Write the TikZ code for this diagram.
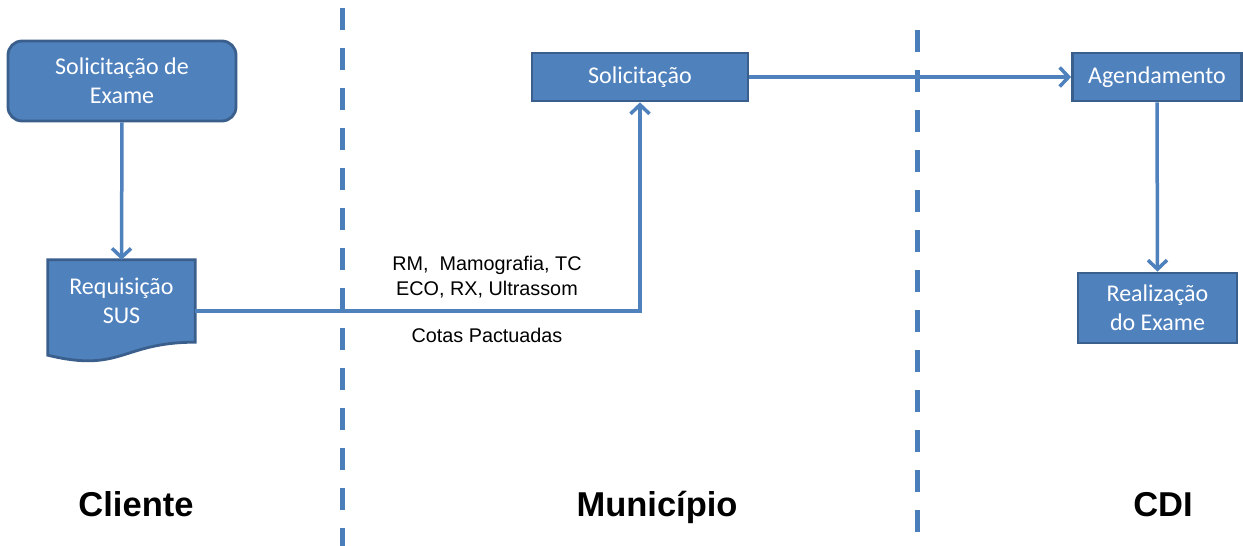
\documentclass[tikz,border=0pt]{standalone}
\usepackage{fontspec}
\setmainfont{Carlito}
\newfontfamily\arialfont{Liberation Sans}
\usetikzlibrary{arrows.meta,calc,backgrounds}
\definecolor{boxfill}{HTML}{4F81BD}
\definecolor{boxline}{HTML}{3A5F8C}
\definecolor{lanecol}{HTML}{4A7EBB}
\begin{document}
\begin{tikzpicture}[x=1pt,y=-1pt,
  boxnode/.style={draw=boxline,fill=boxfill,line width=2.8pt,text=white,
    font=\fontsize{24}{29}\selectfont,align=center,inner sep=0pt},
  doctext/.style={text=white,font=\fontsize{24}{29}\selectfont,align=center,inner sep=0pt},
  conn/.style={draw=boxfill,line width=3.5pt,
    -{Straight Barb[length=9pt,width=19pt,line width=3.5pt]}},
  lane/.style={draw=lanecol,line width=5pt,dash pattern=on 22pt off 18pt},
  lanetitle/.style={font=\arialfont\bfseries\fontsize{34.5}{40}\selectfont,anchor=base},
  note/.style={font=\arialfont\fontsize{19.8}{25}\selectfont,align=center}]
\useasboundingbox (0,0) rectangle (1243,546);
\begin{scope}[on background layer]
  \fill[white] (0,0) rectangle (1243,546);
\end{scope}

% lanes
\draw[lane] (342,8) -- (342,546);
\draw[lane] (917,30) -- (917,546);

% nodes
\node[boxnode,rounded corners=14pt,minimum width=228pt,minimum height=80pt] (sx) at (122,81) {Solicitação de\\Exame};
\node[doctext,minimum width=147pt,minimum height=82pt] (req) at (121.5,301) {Requisição\\SUS};
\begin{scope}[on background layer]
  \filldraw[draw=boxline,fill=boxfill,line width=2.8pt]
    (req.north west) -- (req.north east) -- (req.south east)
    .. controls ($(req.south)+(0,0)$) and ($(req.south)+(0,31)$) ..
    ($(req.south west)+(0,13)$) -- cycle;
\end{scope}
\node[boxnode,minimum width=216pt,minimum height=48pt] (sol) at (640,77) {Solicitação};
\node[boxnode,minimum width=169pt,minimum height=48pt] (age) at (1157,77) {Agendamento};
\node[boxnode,minimum width=159pt,minimum height=70pt] (rea) at (1157.5,308) {Realização\\do Exame};

% labels
\node[note] (lbl1) at (487,277.5) {RM,\ \ Mamografia, TC\\ECO, RX, Ultrassom};
\node[note] (lbl2) at (487,335) {Cotas Pactuadas};

% connectors
\draw[conn] (sx.south) -- (req.north);
\draw[conn] ($(req.east)+(0,10)$) -| (sol.south);
\draw[conn] (sol.east) -- (age.west);
\draw[conn] (age.south) -- (rea.north);

% lane titles
\node[lanetitle] (t1) at (136,516) {Cliente};
\node[lanetitle] (t2) at (657,516) {Município};
\node[lanetitle] (t3) at (1163,516) {CDI};
\end{tikzpicture}
\end{document}
